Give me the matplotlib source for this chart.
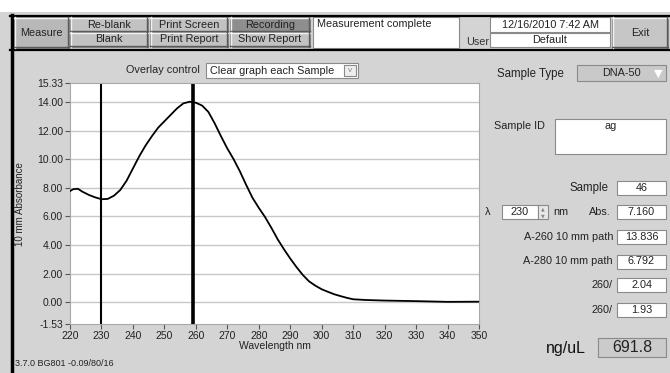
import matplotlib
matplotlib.use("Agg")
import matplotlib.pyplot as plt
from matplotlib.patches import Rectangle

plt.rcParams["font.family"] = ["Liberation Sans", "DejaVu Sans"]

# ---- data ----
wavelength = [220, 221, 222.5, 224, 226, 228, 230, 232, 234, 236, 238, 240, 242,
              244, 246, 248, 250, 252, 254, 256, 258, 260, 262, 264, 266, 268,
              270, 272, 274, 276, 278, 280, 282, 284, 286, 288, 290, 292, 294,
              296, 298, 300, 302, 304, 306, 308, 310, 314, 320, 330, 340, 350]
absorbance = [7.77, 7.9, 7.93, 7.72, 7.5, 7.33, 7.2, 7.22, 7.45, 7.85, 8.5, 9.35,
              10.2, 10.95, 11.6, 12.2, 12.65, 13.1, 13.55, 13.9, 14.02, 13.95,
              13.75, 13.3, 12.5, 11.6, 10.75, 10.0, 9.15, 8.2, 7.3, 6.6, 5.95,
              5.2, 4.4, 3.7, 3.05, 2.45, 1.9, 1.45, 1.15, 0.9, 0.72, 0.55, 0.42,
              0.3, 0.2, 0.15, 0.11, 0.07, 0.02, 0.03]
marker_230 = 230
marker_260 = 259.2
x_ticks = list(range(220, 351, 10))
y_ticks = [-1.53, 0, 2, 4, 6, 8, 10, 12, 14, 15.33]
y_grid = [0, 2, 4, 6, 8, 10, 12, 14]

top_buttons = ["Re-blank", "Print Screen", "Recording"]
bottom_buttons = ["Blank", "Print Report", "Show Report"]
status_text = "Measurement complete"
date_text = "12/16/2010 7:42 AM"
user_text = "Default"
overlay_choice = "Clear graph each Sample"
sample_type = "DNA-50"
sample_id = "ag"
sample_no = "46"
lambda_nm = "230"
abs_value = "7.160"
result_labels = ["A-260 10 mm path", "A-280 10 mm path", "260/", "260/"]
result_values = ["13.836", "6.792", "2.04", "1.93"]
concentration = "691.8"
footer = "3.7.0 BG801 -0.09/80/16"

PANEL = "#d4d4d4"
BTN = "#c2c2c2"

fig = plt.figure(figsize=(6.7, 3.73), dpi=100, facecolor=PANEL)
ui = fig.add_axes([0, 0, 1, 1])
ui.set_xlim(0, 670); ui.set_ylim(373, 0); ui.axis("off")


def box(x, y, w, h, fc="white", text=None, size=7.5, bevel=False, ha="center",
        tcolor="#222222", ty=None):
    ui.add_patch(Rectangle((x, y), w, h, fc=fc, ec="#8a8a8a", lw=0.8))
    if bevel:
        ui.plot([x, x + w], [y + 0.8, y + 0.8], color="#f2f2f2", lw=1)
        ui.plot([x + 0.8, x + 0.8], [y, y + h], color="#f2f2f2", lw=1)
        ui.plot([x, x + w], [y + h - 0.8, y + h - 0.8], color="#5a5a5a", lw=1)
        ui.plot([x + w - 0.8, x + w - 0.8], [y, y + h], color="#5a5a5a", lw=1)
    if text is not None:
        tx = x + w / 2 if ha == "center" else x + 4
        ui.text(tx, y + h / 2 if ty is None else ty, text, ha=ha, va="center",
                fontsize=size, color=tcolor)


# top strip and toolbar
ui.add_patch(Rectangle((0, 0), 670, 12, fc="white", ec="none"))
ui.add_patch(Rectangle((10, 15), 660, 35, fc=PANEL, ec="none"))
ui.plot([10, 670], [15.5, 15.5], color="black", lw=1.6)
ui.plot([10, 670], [49.5, 49.5], color="black", lw=1.6)
ui.plot([11.5, 11.5], [15, 373], color="black", lw=2.5)

box(14, 17, 55, 31, fc="#b8b8b8", text="Measure", size=7.8, bevel=True)
xs = [70, 150, 230]
ws = [78, 78, 80]
for i in range(3):
    fc_top = "#8e8e8e" if top_buttons[i] == "Recording" else BTN
    box(xs[i], 17, ws[i], 15, fc=fc_top, text=top_buttons[i], size=7.8, bevel=True)
    box(xs[i], 32, ws[i], 15, fc=BTN, text=bottom_buttons[i], size=7.8, bevel=True)
box(313, 17, 146, 31, fc="white", text=status_text, size=7.8, ha="left", ty=24)
ui.text(466, 42, "User", fontsize=7.8, va="center", color="#333333")
box(490, 17, 120, 15, text=date_text, size=7.8)
box(490, 33, 120, 14, text=user_text, size=7.8)
box(612, 17, 56, 31, fc="#c6c6c6", text="Exit", size=7.8, bevel=True)

# overlay control
ui.text(200, 70, "Overlay control", ha="right", va="center", fontsize=7.8, color="#222222")
box(206, 63, 152, 15, text=overlay_choice, size=7.8, ha="left", ty=70.5)
box(344, 65, 12, 11, fc="#eeeeee")
ui.text(350, 70.5, "v", ha="center", va="center", fontsize=6, color="#888888")

# right panel
ui.text(497, 74, "Sample Type", va="center", fontsize=8.3, color="#222222")
box(577, 65, 89, 16, fc="#c9c9c9", text=sample_type, size=7.8, ty=72.5)
ui.text(658, 74, "\u25BC", ha="center", va="center", fontsize=8, color="white",
        family="DejaVu Sans")
ui.text(494, 126, "Sample ID", va="center", fontsize=7.8, color="#222222")
box(555, 119, 111, 35, text=sample_id, size=7.8, ty=126)

ui.text(609, 188, "Sample", ha="right", va="center", fontsize=8.3, color="#222222")
box(617, 181, 49, 14, text=sample_no, size=7.8)
ui.text(488, 212, "\u03bb", ha="center", va="center", fontsize=8, color="#222222")
box(502, 205, 36, 14, text=lambda_nm, size=7.8)
box(538, 205, 10, 14, fc="#e8e8e8")
ui.text(543, 209, "\u25B2", ha="center", va="center", fontsize=3.5, color="#888888",
        family="DejaVu Sans")
ui.text(543, 215.5, "\u25BC", ha="center", va="center", fontsize=3.5, color="#888888",
        family="DejaVu Sans")
ui.text(553, 212, "nm", va="center", fontsize=7.8, color="#222222")
ui.text(611, 212, "Abs.", ha="right", va="center", fontsize=7.8, color="#222222")
box(617, 205, 49, 14, text=abs_value, size=7.8)

row_y = [237, 261.5, 285, 310]
for lab, val, yy in zip(result_labels, result_values, row_y):
    ui.text(613, yy, lab, ha="right", va="center", fontsize=7.8, color="#222222")
    box(617, yy - 7, 49, 14, text=val, size=7.8)

ui.text(566, 348, "ng/uL", ha="center", va="center", fontsize=11.5, color="#111111")
box(598, 338, 68, 19, fc="#cbcbcb", text=concentration, size=11.5)

ui.text(15, 363, footer, va="center", fontsize=6.5, color="#222222")
ui.text(20, 204, "10 mm Absorbance", rotation=90, ha="center", va="center",
        fontsize=7, color="#222222")

# ---- spectrum plot ----
ax = fig.add_axes([70 / 670, (373 - 324) / 373, 409 / 670, 241 / 373])
ax.set_facecolor("white")
for g in y_grid:
    ax.axhline(g, color="#c8c8c8", lw=1, zorder=1)
ax.axvline(marker_230, color="black", lw=1.5, zorder=2)
ax.axvline(marker_260, color="black", lw=2.6, zorder=2)
ax.plot(wavelength, absorbance, color="black", lw=1.3, zorder=3)
ax.set_xlim(220, 350)
ax.set_ylim(-1.53, 15.33)
ax.set_xticks(x_ticks)
ax.set_yticks(y_ticks)
ax.set_yticklabels([f"{v:.2f}" for v in y_ticks])
ax.tick_params(direction="out", length=3.5, width=0.8, color="#555555",
               labelsize=7.5, labelcolor="#222222", pad=1.5)
for s in ax.spines.values():
    s.set_color("#a8a8a8"); s.set_linewidth(0.8)
ax.set_xlabel("Wavelength nm", fontsize=7.5, color="#222222", labelpad=0)

fig.savefig("out.png", dpi=100, facecolor=PANEL)
